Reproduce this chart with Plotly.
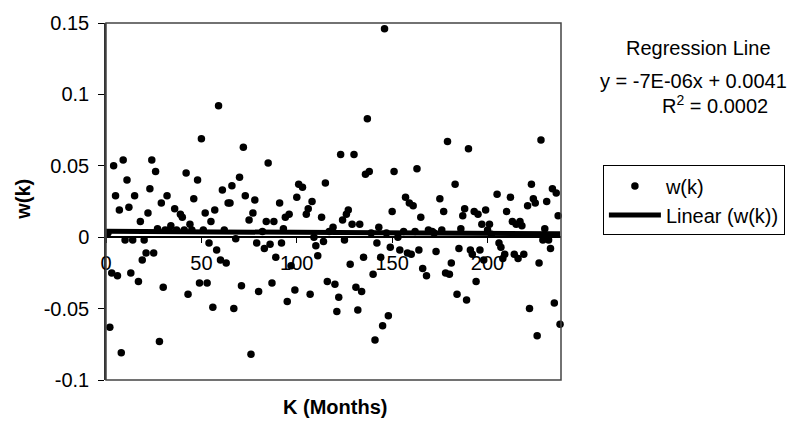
import plotly.graph_objects as go

# Monthly observations w(k)
months = [
    1, 2, 3, 4, 5, 6, 7, 8, 9, 10, 11, 12, 13, 14, 15, 17, 18, 19, 20, 21,
    22, 23, 24, 25, 26, 27, 28, 29, 30, 31, 32, 33, 34, 36, 37, 39, 40, 41, 42, 43,
    44, 45, 46, 48, 49, 50, 51, 52, 53, 54, 55, 56, 57, 58, 59, 60, 61, 62, 63, 64,
    65, 66, 67, 68, 70, 71, 72, 73, 75, 76, 77, 78, 79, 80, 82, 83, 84, 85, 86, 87,
    88, 89, 91, 92, 93, 94, 95, 96, 97, 99, 100, 101, 103, 105, 106, 107, 108, 109, 110, 111,
    113, 114, 115, 116, 117, 119, 120, 121, 122, 123, 124, 125, 126, 127, 128, 129, 130, 131, 132, 133,
    134, 135, 136, 137, 138, 139, 140, 141, 142, 143, 144, 145, 146, 147, 148, 149, 150, 151, 153, 154,
    156, 157, 158, 159, 160, 161, 162, 163, 164, 165, 166, 168, 169, 171, 172, 173, 175, 176, 177, 178,
    179, 180, 181, 183, 184, 185, 186, 187, 188, 189, 190, 191, 192, 193, 194, 195, 196, 197, 198, 199,
    200, 201, 202, 205, 206, 207, 208, 209, 210, 212, 213, 214, 215, 216, 217, 218, 219, 221, 222, 223,
    224, 225, 226, 227, 228, 229, 230, 231, 232, 233, 234, 235, 236, 237, 238,
]
w_k = [
    0.003, -0.063, -0.025, 0.050, 0.029, -0.027, 0.019, -0.081, 0.054, -0.002,
    0.040, 0.021, -0.025, -0.002, 0.029, -0.031, 0.011, -0.016, -0.002, -0.011,
    0.017, 0.034, 0.054, -0.011, 0.046, 0.006, -0.073, 0.024, -0.035, 0.005,
    0.029, 0.005, 0.008, 0.020, 0.005, 0.016, 0.014, 0.005, 0.045, -0.040,
    0.009, 0.005, 0.027, 0.040, -0.032, 0.069, 0.005, 0.017, -0.032, -0.004,
    0.011, -0.049, 0.019, -0.009, 0.092, -0.016, 0.033, 0.005, -0.018, 0.024,
    0.024, 0.036, -0.050, -0.001, 0.042, -0.034, 0.063, 0.029, 0.012, -0.082,
    0.017, 0.026, -0.004, -0.038, 0.004, -0.008, 0.011, 0.052, -0.005, -0.032,
    0.011, -0.014, 0.024, -0.004, 0.006, 0.014, -0.045, 0.016, -0.020, -0.037,
    0.028, 0.037, 0.035, 0.016, 0.020, -0.040, 0.025, 0.000, -0.006, -0.013,
    0.014, -0.003, 0.038, -0.031, 0.004, 0.007, -0.033, -0.052, -0.042, 0.058,
    0.012, -0.002, 0.016, 0.019, -0.019, 0.009, 0.058, -0.035, -0.051, 0.009,
    -0.038, -0.014, 0.044, 0.083, 0.046, 0.003, -0.026, -0.072, -0.004, 0.007,
    -0.014, -0.062, 0.146, 0.003, -0.055, -0.007, 0.018, 0.046, 0.000, -0.009,
    0.004, 0.028, -0.011, 0.024, -0.012, 0.022, 0.004, 0.048, -0.009, 0.014,
    -0.022, -0.027, 0.005, 0.004, 0.003, -0.010, 0.027, 0.005, 0.018, -0.025,
    0.067, -0.026, -0.018, 0.037, -0.040, -0.008, 0.006, 0.015, 0.020, -0.044,
    0.062, -0.009, -0.012, 0.018, -0.031, 0.016, -0.009, 0.009, -0.016, 0.019,
    0.005, 0.009, 0.002, 0.030, -0.004, -0.007, -0.015, -0.012, 0.018, 0.028,
    0.011, -0.012, 0.009, -0.015, 0.011, 0.008, -0.012, 0.022, -0.050, 0.037,
    0.027, 0.024, -0.069, -0.018, 0.068, -0.002, 0.006, 0.025, -0.002, -0.008,
    0.034, -0.046, 0.031, 0.015, -0.061,
]

# Least-squares trend reported for the series
slope = -7e-06
intercept = 0.0041
r_squared = "0.0002"

y_ticks = [0.15, 0.1, 0.05, 0, -0.05, -0.1]
y_tick_text = ["0.15", "0.1", "0.05", "0", "-0.05", "-0.1"]
x_ticks = [0, 50, 100, 150, 200]
x_tick_text = ["0", "50", "100", "150", "200"]

FONT = "Liberation Sans, Arial, sans-serif"
FS = 20

trend_x = [0, months[-1]]
trend_y = [intercept + slope * k for k in trend_x]

fig = go.Figure()
fig.add_trace(go.Scatter(
    x=months, y=w_k, mode="markers", name="w(k)",
    marker=dict(color="black", size=7.5, line=dict(width=0)),
    cliponaxis=False,
))
fig.add_trace(go.Scatter(
    x=trend_x, y=trend_y, mode="lines", name="Linear (w(k))",
    line=dict(color="black", width=5),
))

y_lo, y_hi = -0.1, 0.15
fig.update_layout(
    width=797, height=434,
    margin=dict(l=106, r=235, t=14, b=54, pad=0),
    paper_bgcolor="white", plot_bgcolor="white",
    font=dict(family=FONT, size=FS, color="black"),
    showlegend=True,
    legend=dict(
        x=(604 - 106) / 456, y=(380 - 160) / 366,
        xanchor="left", yanchor="top",
        bordercolor="black", borderwidth=1,
        font=dict(family=FONT, size=FS, color="black"),
        itemwidth=52, tracegroupgap=0,
    ),
    xaxis=dict(
        range=[0, 238.5], anchor="free",
        position=(0 - y_lo) / (y_hi - y_lo),
        showgrid=False, zeroline=False,
        showline=True, linecolor="black", linewidth=1.5,
        ticks="outside", ticklen=5, tickcolor="black",
        tickvals=x_ticks, ticktext=x_tick_text,
        tickfont=dict(family=FONT, size=FS),
        ticklabelstandoff=3,
    ),
    yaxis=dict(
        range=[y_lo, y_hi],
        showgrid=False, zeroline=False,
        showline=True, linecolor="#333", linewidth=1.5,
        ticks="outside", ticklen=6, tickcolor="black",
        tickvals=y_ticks, ticktext=y_tick_text,
        tickfont=dict(family=FONT, size=FS),
        ticklabelstandoff=5,
    ),
)

# Plot-area frame
fig.add_shape(type="rect", xref="paper", yref="paper", x0=0, x1=1, y0=0, y1=1,
              line=dict(color="#444", width=1.5), layer="above")


def px(v):
    return (v - 106) / 456


def py(v):
    return (380 - v) / 366


def label(x, y, text, **kw):
    fig.add_annotation(x=px(x), y=py(y), xref="paper", yref="paper",
                       xanchor="center", yanchor="middle", text=text,
                       showarrow=False, font=dict(family=FONT, size=FS), **kw)


label(700, 40, "Regression Line")
label(695, 73, f"y = {slope:.0E}x + {intercept}")
label(716, 98, f"R<sup>2</sup> = {r_squared}")

# Axis titles
label(336, 408, "<b>K (Months)</b>")
label(22, 195, "<b>w(k)</b>", textangle=-90)

fig.write_html("out.html")
